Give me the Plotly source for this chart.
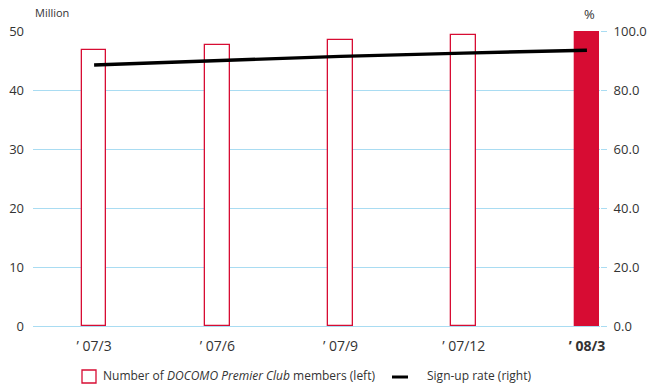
import plotly.graph_objects as go

# Quarter-end periods
periods = ["'07/3", "'07/6", "'07/9", "'07/12", "'08/3"]
tick_labels = ["\u2019 07/3", "\u2019 07/6", "\u2019 07/9", "\u2019 07/12", "<b>\u2019 08/3</b>"]

# DOCOMO Premier Club members (million, left axis)
members = [46.7, 47.6, 48.5, 49.4, 49.9]
# Sign-up rate (%, right axis)
signup_rate = [88.5, 89.9, 91.4, 92.5, 93.5]

RED = "#d70c33"
GRID = "#a9dcf2"
TEXT = "#333333"
FONT = "Open Sans"

x_pos = list(range(len(periods)))
fill_colors = ["white"] * (len(periods) - 1) + [RED]

fig = go.Figure()
fig.add_trace(go.Bar(
    x=x_pos, y=members, width=0.2,
    marker=dict(color=fill_colors, line=dict(color=RED, width=1.3)),
    yaxis="y", showlegend=False,
))
fig.add_trace(go.Scatter(
    x=x_pos, y=signup_rate, mode="lines",
    line=dict(color="black", width=3.4),
    yaxis="y2", showlegend=False,
))

fig.update_layout(
    template="none",
    width=649, height=384,
    margin=dict(l=33, r=49, t=31, b=58),
    paper_bgcolor="white", plot_bgcolor="white",
    font=dict(family=FONT, color=TEXT, size=13),
    xaxis=dict(
        range=[-0.496, 4.106], tickmode="array", tickvals=x_pos, ticktext=tick_labels,
        showgrid=False, zeroline=False, showline=False, ticks="", automargin=False,
        tickfont=dict(size=14, color=TEXT), ticklabelstandoff=10,
    ),
    yaxis=dict(
        range=[0, 50], dtick=10, showgrid=True, gridcolor=GRID, gridwidth=1,
        zeroline=True, zerolinecolor=GRID, zerolinewidth=1, showline=False,
        ticks="", automargin=False,
        tickfont=dict(size=13, color=TEXT), ticklabelstandoff=8,
    ),
    yaxis2=dict(
        range=[0, 100], dtick=20, tickformat=".1f", overlaying="y", side="right",
        showgrid=False, zeroline=False, showline=False, automargin=False,
        ticks="outside", ticklen=6, tickcolor=GRID, tickwidth=1,
        tickfont=dict(size=13, color=TEXT), ticklabelstandoff=4,
    ),
    bargap=0,
)

# Axis unit captions
fig.add_annotation(text="Million", xref="paper", yref="paper", x=0, y=1,
                   xanchor="left", yanchor="bottom", yshift=9, showarrow=False,
                   font=dict(size=11, color=TEXT))
fig.add_annotation(text="%", xref="paper", yref="paper", x=1, y=1,
                   xanchor="center", yanchor="bottom", yshift=6, xshift=-11, showarrow=False,
                   font=dict(size=13, color=TEXT))

# Legend row drawn below the axis
LEG_Y = -(375.5 - 326) / 295
fig.add_shape(type="rect", xref="paper", yref="paper",
              x0=(82 - 33) / 567, x1=(96 - 33) / 567,
              y0=-(383 - 326) / 295, y1=-(370 - 326) / 295,
              line=dict(color=RED, width=1.3), fillcolor="white")
fig.add_annotation(text="Number of <i>DOCOMO Premier Club</i> members (left)",
                   xref="paper", yref="paper", x=(101 - 33) / 567, y=LEG_Y,
                   xanchor="left", yanchor="middle", showarrow=False,
                   font=dict(size=12, color=TEXT))
fig.add_shape(type="line", xref="paper", yref="paper",
              x0=(392 - 33) / 567, x1=(408 - 33) / 567,
              y0=-(377 - 326) / 295, y1=-(377 - 326) / 295,
              line=dict(color="black", width=3))
fig.add_annotation(text="Sign-up rate (right)",
                   xref="paper", yref="paper", x=(425 - 33) / 567, y=LEG_Y,
                   xanchor="left", yanchor="middle", showarrow=False,
                   font=dict(size=12, color=TEXT))

fig.write_html("out.html")
